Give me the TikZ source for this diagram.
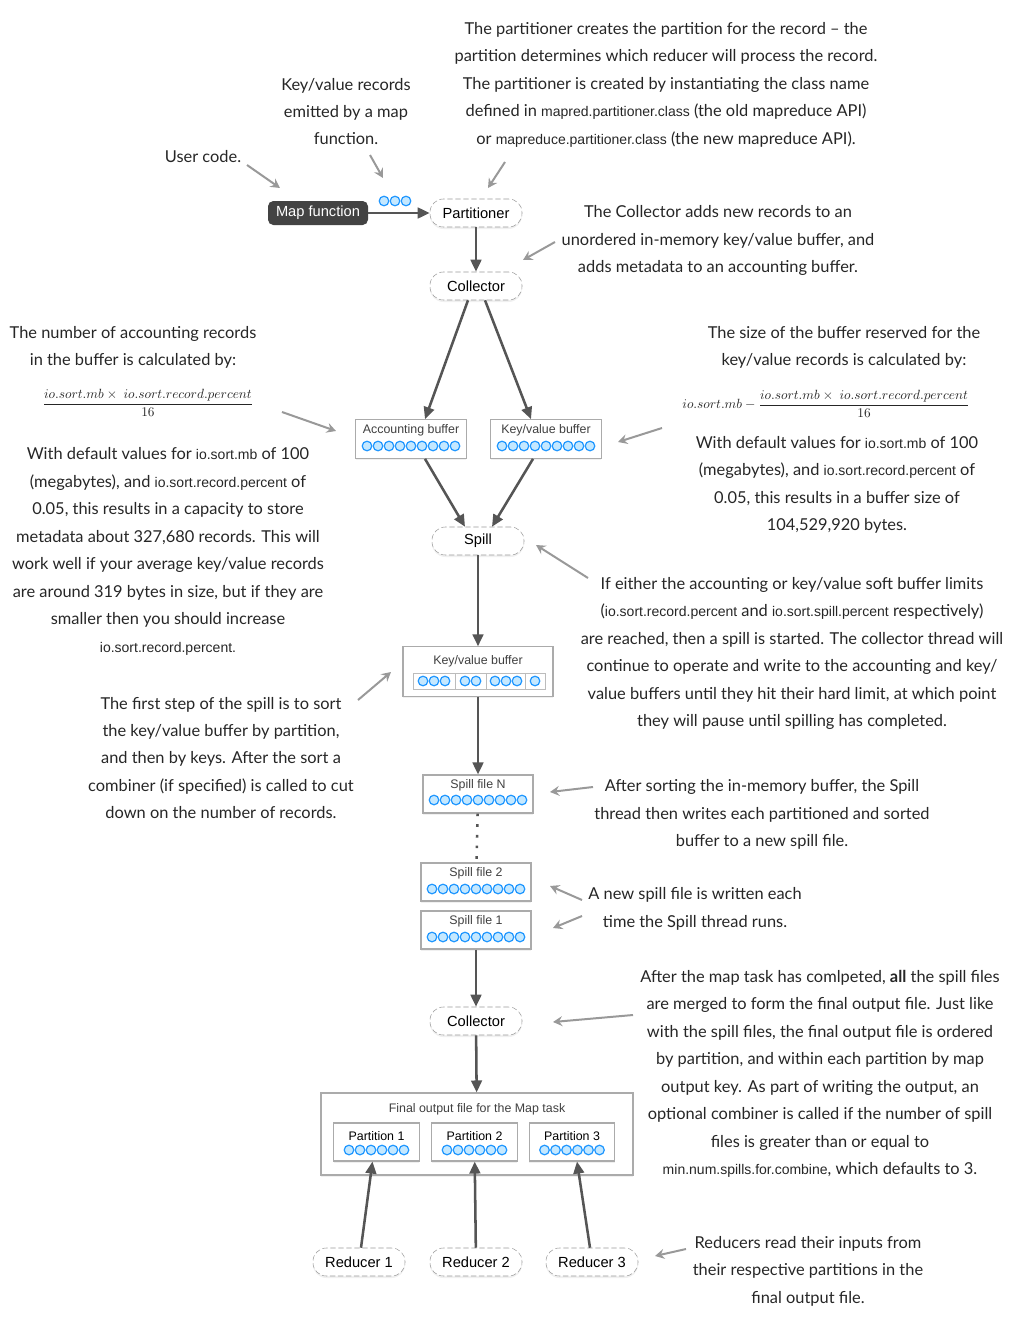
\documentclass[tikz,border=0pt]{standalone}
\usepackage{amsmath}
\usepackage{fontspec}
\setmainfont{Lato}
\setsansfont{Liberation Sans}
\usetikzlibrary{arrows.meta,positioning,shadows,calc}
\definecolor{linegray}{HTML}{555555}
\definecolor{notegray}{HTML}{999999}
\definecolor{dashgray}{HTML}{9A9A9A}
\definecolor{boxgray}{HTML}{ABABAB}
\definecolor{recblue}{HTML}{1E96FF}
\definecolor{recfill}{HTML}{C4E8FF}
\definecolor{mapfill}{HTML}{434343}
\tikzset{
    task/.style = {draw=dashgray, dash pattern=on 4pt off 2pt, fill=white, rounded corners=10pt, minimum width=69pt, minimum height=21pt,
        font=\sffamily\fontsize{11}{13}\selectfont, drop shadow={opacity=0.12, shadow xshift=0pt, shadow yshift=-1.5pt}},
    mapfn/.style = {fill=mapfill, text=white, rounded corners=4pt, minimum width=75pt, minimum height=18pt,
        font=\sffamily\fontsize{11}{13}\selectfont},
    buffer/.style = {draw=boxgray, fill=white, line width=0.8pt, drop shadow={opacity=0.12, shadow xshift=0pt, shadow yshift=-1.5pt}},
    buftitle/.style = {font=\sffamily\fontsize{9.3}{11}\selectfont, text=black!75, inner sep=0pt},
    seg/.style = {draw=boxgray!80, line width=0.6pt},
    rec/.style = {draw=recblue, fill=recfill, line width=0.9pt},
    flow/.style = {draw=linegray, line width=1.9pt, -{Triangle[length=9pt,width=8pt]}},
    note/.style = {align=center, font=\fontsize{12.3}{20.6}\selectfont, text=black!85},
    formula/.style = {font=\fontsize{10}{12}\selectfont},
    hint/.style = {draw=notegray, line width=1.5pt, -{Stealth[length=7pt,width=7.5pt,inset=2.5pt]}},
}
\newcommand\prm[1]{{\sffamily\fontsize{10.5}{20.6}\selectfont #1}}
% a row of records: first x, y, count
\newcommand\recrow[3]{\foreach \k in {1,...,#3} \draw[rec] ({#1+(\k-1)*11},#2) circle (3.6pt);}

\begin{document}
\begin{tikzpicture}[x=0.75pt, y=-0.75pt]
    \useasboundingbox (0,0) rectangle (1013,1321);

    % map side
    \node [mapfn]                                       (mapfn)   at (318,213)  {Map function};
    \node [task]                                        (part)    at (476,213)  {Partitioner};
    \node [task]                                        (coll1)   at (476,286)  {Collector};
    \node [buffer, minimum width=83pt, minimum height=29pt] (accbuf) at (411,439) {};
    \node [buftitle]                                    (acctitle) at (411,430) {Accounting buffer};
    \node [buffer, minimum width=83pt, minimum height=29pt] (kvbuf)  at (546,439) {};
    \node [buftitle]                                    (kvtitle) at (546,430)  {Key/value buffer};
    \node [task]                                        (spill)   at (478,541)  {Spill};
    \node [buffer, minimum width=112.5pt, minimum height=37pt] (kvbig) at (478,671.5) {};
    \node [buftitle]                                    (bigtitle) at (478,661) {Key/value buffer};
    \node [buffer, minimum width=82.5pt, minimum height=28.5pt] (spillN) at (478,794) {};
    \node [buftitle]                                    (ntitle)  at (478,785)  {Spill file N};
    \node [buffer, minimum width=82.5pt, minimum height=28.5pt] (spill2) at (476,882) {};
    \node [buftitle]                                    (twotitle) at (476,873) {Spill file 2};
    \node [buffer, minimum width=82.5pt, minimum height=28.5pt] (spill1) at (476,930) {};
    \node [buftitle]                                    (onetitle) at (476,921) {Spill file 1};
    \node [task]                                        (coll2)   at (476,1021) {Collector};

    % final output
    \node [buffer, minimum width=234pt, minimum height=61.5pt] (final) at (477,1134) {};
    \node [buftitle]                                    (fintitle) at (477,1109) {Final output file for the Map task};
    \foreach \n/\x in {1/376.5, 2/474.5, 3/572} {
        \node [buffer, minimum width=64pt, minimum height=28.5pt] (p\n) at (\x,1142) {};
        \node [buftitle, text=black] at (\x,1136) {Partition \n};
        \recrow{\x-27.5}{1150}{6}
    }
    \node [task] (red1) at (359,1262) {Reducer 1};
    \node [task] (red2) at (476,1262) {Reducer 2};
    \node [task] (red3) at (592,1262) {Reducer 3};

    % records
    \recrow{384}{201}{3}
    \recrow{367}{446}{9}
    \recrow{502}{446}{9}
    \recrow{434}{800}{9}
    \recrow{432}{889}{9}
    \recrow{432}{937}{9}
    \foreach \a/\b in {413/455, 455/486, 486/525, 525/545}
        \draw[seg] (\a,673) rectangle (\b,689);
    \recrow{423}{681}{3}
    \recrow{465}{681}{2}
    \recrow{495}{681}{3}
    \recrow{535}{681}{1}

    % flow
    \draw [flow] (mapfn) -- (part);
    \draw [flow] (part) -- (coll1);
    \draw [flow] ($(coll1.south)+(-8,0)$) -- ($(accbuf.north)+(14,0)$);
    \draw [flow] ($(coll1.south)+(9,0)$) -- ($(kvbuf.north)+(-15,0)$);
    \draw [flow] ($(accbuf.south)+(14,0)$) -- ($(spill.north)+(-13,0)$);
    \draw [flow] ($(kvbuf.south)+(-13,0)$) -- ($(spill.north)+(14,0)$);
    \draw [flow] (spill) -- (kvbig);
    \draw [flow] (kvbig) -- (spillN);
    \draw [linegray, line width=1.9pt, dash pattern=on 2pt off 6pt] (spillN) -- (spill2);
    \draw [flow] (spill1) -- (coll2);
    \draw [flow] (coll2) -- (final);
    \draw [flow] ($(red1.north)+(2,0)$) -- ($(p1.south)+(-4,0)$);
    \draw [flow] (red2) -- (p2);
    \draw [flow] ($(red3.north)+(-2,0)$) -- ($(p3.south)+(5,0)$);

    % notes
    \node [note] (nuser) at (203,157) {User code.};
    \node [note] (nemit) at (346,111.5) {Key/value records\\emitted by a map\\function.};
    \node [note] (npart) at (666,84.5) {The partitioner creates the partition for the record -- the\\
        partition determines which reducer will process the record.\\
        The partitioner is created by instantiating the class name\\
        defined in \prm{mapred.partitioner.class} (the old mapreduce API)\\
        or \prm{mapreduce.partitioner.class} (the new mapreduce API).};
    \node [note] (ncoll) at (718,240.5) {The Collector adds new records to an\\
        unordered in-memory key/value buffer, and\\adds metadata to an accounting buffer.};
    \node [note] (naccnum) at (133,347.5) {The number of accounting records\\in the buffer is calculated by:};
    \node [note, formula] (naccf) at (148,403) {$\dfrac{io.sort.mb\times\ io.sort.record.percent}{16}$};
    \node [note] (naccdef) at (168,551.5) {With default values for \prm{io.sort.mb} of 100\\
        (megabytes), and \prm{io.sort.record.percent} of\\
        0.05, this results in a capacity to store\\
        metadata about 327,680 records. This will\\
        work well if your average key/value records\\
        are around 319 bytes in size, but if they are\\
        smaller then you should increase\\
        \prm{io.sort.record.percent.}};
    \node [note] (nkvsize) at (844,347.5) {The size of the buffer reserved for the\\key/value records is calculated by:};
    \node [note, formula] (nkvf) at (826,404) {$io.sort.mb - \dfrac{io.sort.mb\times\ io.sort.record.percent}{16}$};
    \node [note] (nkvdef) at (837,485) {With default values for \prm{io.sort.mb} of 100\\
        (megabytes), and \prm{io.sort.record.percent} of\\
        0.05, this results in a buffer size of\\104,529,920 bytes.};
    \node [note] (nspill) at (792,653.5) {If either the accounting or key/value soft buffer limits\\
        (\prm{io.sort.record.percent} and \prm{io.sort.spill.percent} respectively)\\
        are reached, then a spill is started. The collector thread will\\
        continue to operate and write to the accounting and key/\\
        value buffers until they hit their hard limit, at which point\\
        they will pause until spilling has completed.};
    \node [note] (nsort) at (221,758) {The first step of the spill is to sort\\
        the key/value buffer by partition,\\
        and then by keys. After the sort a\\
        combiner (if specified) is called to cut\\
        down on the number of records.};
    \node [note] (nwrite) at (762,814.5) {After sorting the in-memory buffer, the Spill\\
        thread then writes each partitioned and sorted\\buffer to a new spill file.};
    \node [note] (nnew) at (695,909) {A new spill file is written each\\time the Spill thread runs.};
    \node [note] (nmerge) at (820,1074) {After the map task has comlpeted, \textbf{all} the spill files\\
        are merged to form the final output file. Just like\\
        with the spill files, the final output file is ordered\\
        by partition, and within each partition by map\\
        output key. As part of writing the output, an\\
        optional combiner is called if the number of spill\\
        files is greater than or equal to\\
        \prm{min.num.spills.for.combine}, which defaults to 3.};
    \node [note] (nred) at (808,1271) {Reducers read their inputs from\\
        their respective partitions in the\\final output file.};

    % pointers from the notes
    \foreach \ax/\ay/\bx/\by [count=\i] in {247/165/280/188, 370/155/383/178, 505/162/488/188, 555/242/523/260,
        282/412/336/431, 662/428/618/442, 588/578/536/545, 358/700/391/672, 593/787/550/792,
        582/900/550/886, 582/916/553/928, 633/1015/553/1022, 686/1249/655/1256} {
        \coordinate (hs\i) at (\ax,\ay);
        \coordinate (he\i) at (\bx,\by);
        \draw [hint] (hs\i) -- (he\i);
    }
\end{tikzpicture}
\end{document}
